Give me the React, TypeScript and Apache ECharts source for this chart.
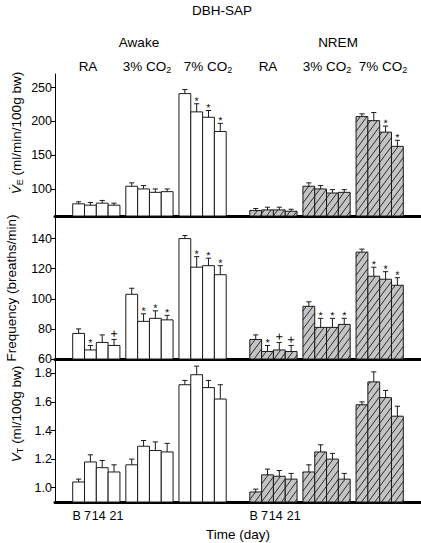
import React, { useEffect, useRef } from "react";
import * as echarts from "echarts";

// ---- data (order: Awake RA, Awake 3% CO2, Awake 7% CO2, NREM RA, NREM 3% CO2, NREM 7% CO2; 4 days each) ----
const stateNames = ["Awake", "NREM"];
const conditionNames = ["RA", "3% CO2", "7% CO2"];
const dayLabels = ["B", "7", "14", "21"];

const veMean = [78, 76, 79, 76, 104, 100, 95, 96, 241, 214, 206, 185, 68, 69, 69, 67, 104, 100, 94, 95, 207, 201, 184, 163];
const veErr = [3, 4, 4, 3, 5, 5, 5, 4, 6, 12, 10, 12, 3, 4, 4, 3, 5, 5, 5, 4, 4, 12, 9, 9];
const veSig = ["", "", "", "", "", "", "", "", "", "*", "*", "*", "", "", "", "", "", "", "", "", "", "", "*", "*"];

const freqMean = [77, 66, 71, 69, 103, 85, 87, 86, 140, 121, 122, 116, 73, 65, 66, 65, 95, 81, 81, 83, 131, 115, 113, 109];
const freqErr = [3, 3, 5, 4, 4, 5, 5, 3, 2, 7, 5, 6, 3, 4, 5, 4, 3, 6, 6, 4, 2, 6, 5, 5];
const freqSig = ["", "*", "", "+", "", "*", "*", "*", "", "*", "*", "*", "", "*", "+", "+", "", "*", "*", "*", "", "*", "*", "*"];

const vtMean = [1.04, 1.18, 1.14, 1.11, 1.16, 1.29, 1.26, 1.25, 1.72, 1.79, 1.70, 1.62, 0.97, 1.09, 1.08, 1.06, 1.11, 1.25, 1.20, 1.06, 1.58, 1.74, 1.63, 1.50];
const vtErr = [0.02, 0.05, 0.05, 0.05, 0.04, 0.04, 0.06, 0.06, 0.03, 0.06, 0.05, 0.10, 0.02, 0.04, 0.04, 0.04, 0.05, 0.05, 0.04, 0.04, 0.02, 0.07, 0.05, 0.07];
const vtSig = ["", "", "", "", "", "", "", "", "", "", "", "", "", "", "", "", "", "", "", "", "", "", "", ""];

const veTicks = [100, 150, 200, 250];
const freqTicks = [60, 80, 100, 120, 140];
const vtTicks = [1.0, 1.2, 1.4, 1.6, 1.8];

// ---- layout ----
const FONT = "'Liberation Sans', Arial, Helvetica, sans-serif";
const LEAD = 1.5;
const GROUP_GAP = 0.5;
const STATE_GAP = 2;
const X_MAX = 31;
const perGroup = dayLabels.length;
const perState = conditionNames.length;
// label nudges (left/right padding) so day labels sit as in the original
const dayPad = [[0, 4, 0, 0], [0, 6, 0, 0], [0, 7, 0, 0], [0, 0, 0, 5]];

function barPos(k: number) {
  const g = Math.floor(k / perGroup);
  const i = k % perGroup;
  const s = Math.floor(g / perState);
  const c = g % perState;
  const stateWidth = perState * perGroup + (perState - 1) * GROUP_GAP + STATE_GAP;
  return LEAD + s * stateWidth + c * (perGroup + GROUP_GAP) + i + 0.5;
}

const dayTickPositions: number[] = [];
stateNames.forEach((_, s) => {
  for (let i = 0; i < perGroup; i++) dayTickPositions.push(barPos(s * perState * perGroup + i));
});

function hatchLines(x0: number, x1: number, y0: number, y1: number) {
  const m = 1.35;
  const sp = 9;
  const out: any[] = [];
  const bMin = y0 + m * x0;
  const bMax = y1 + m * x1;
  for (let k = Math.ceil(bMin / sp); k * sp <= bMax; k++) {
    const b = k * sp;
    const xa = Math.max(x0, (b - y1) / m);
    const xb = Math.min(x1, (b - y0) / m);
    if (xb - xa > 0.3) {
      out.push({
        type: "line",
        shape: { x1: xa, y1: b - m * xa, x2: xb, y2: b - m * xb },
        style: { stroke: "#1a1a1a", lineWidth: 0.9 },
      });
    }
  }
  return out;
}

function makeRender(yMin: number, sig: string[]) {
  return (params: any, api: any) => {
    const idx = params.dataIndex;
    const x = api.value(0);
    const y = api.value(1);
    const e = api.value(2);
    const top = api.coord([x, y]);
    const base = api.coord([x, yMin]);
    const w = api.size([1, 0])[0];
    const left = top[0] - w / 2;
    const h = base[1] - top[1];
    const hatched = Math.floor(idx / (perState * perGroup)) === 1;
    const children: any[] = [];
    children.push({
      type: "rect",
      shape: { x: left, y: top[1], width: w, height: h },
      style: { fill: hatched ? "#c4c4c4" : "#ffffff", stroke: "none" },
    });
    if (hatched) children.push(...hatchLines(left, left + w, top[1], base[1]));
    children.push({
      type: "rect",
      shape: { x: left, y: top[1], width: w, height: h },
      style: { fill: "none", stroke: "#1a1a1a", lineWidth: 1 },
    });
    const cap = api.coord([x, y + e]);
    children.push({
      type: "line",
      shape: { x1: top[0], y1: top[1], x2: top[0], y2: cap[1] },
      style: { stroke: "#1a1a1a", lineWidth: 1 },
    });
    children.push({
      type: "line",
      shape: { x1: top[0] - 2.6, y1: cap[1], x2: top[0] + 2.6, y2: cap[1] },
      style: { stroke: "#1a1a1a", lineWidth: 1 },
    });
    const mk = sig[idx];
    if (mk) {
      const isStar = mk === "*";
      children.push({
        type: "text",
        x: top[0],
        y: cap[1] - (isStar ? 3 : 6),
        rotation: 0.002,
        style: {
          text: mk,
          fill: "#000000",
          stroke: "none",
          lineWidth: 0,
          opacity: 0.99,
          fontSize: isStar ? 11 : 13,
          fontFamily: FONT,
          align: "center",
          verticalAlign: "middle",
        },
      });
    }
    return { type: "group", children };
  };
}

function seriesData(mean: number[], err: number[]) {
  return mean.map((v, k) => [barPos(k), v, err[k]]);
}

export default function App() {
  const ref = useRef<HTMLDivElement>(null);
  useEffect(() => {
    if (!ref.current) return;
    const chart = echarts.init(ref.current, null, { renderer: "svg" });
    const grids = [
      { left: 55, right: 0, top: 74, height: 142 },
      { left: 55, right: 0, top: 216, height: 143 },
      { left: 55, right: 0, top: 359, height: 143 },
    ];
    const ranges = [
      [60, 270],
      [60, 155],
      [0.9, 1.9],
    ];
    const ticks = [veTicks, freqTicks, vtTicks];
    const fmt = [(v: number) => String(v), (v: number) => String(v), (v: number) => v.toFixed(1)];
    const dayRich: any = {};
    dayPad.forEach((p, i) => {
      dayRich["d" + i] = { padding: p, fontSize: 12.5, fontFamily: FONT, color: "#000" };
    });
    const xAxis = grids.map((_, gi) => ({
      gridIndex: gi,
      type: "value",
      min: 0,
      max: X_MAX,
      axisLine: { show: true, onZero: false, lineStyle: { color: "#000", width: 3 } },
      axisTick: { show: false },
      splitLine: { show: false },
      axisLabel:
        gi === 2
          ? {
              show: true,
              customValues: dayTickPositions,
              hideOverlap: false,
              margin: 7,
              color: "#000",
              fontSize: 12.5,
              fontFamily: FONT,
              rich: dayRich,
              formatter: (v: number) => {
                const j = dayTickPositions.findIndex((p) => Math.abs(p - v) < 0.01);
                if (j < 0) return "";
                const d = j % perGroup;
                return `{d${d}|${dayLabels[d]}}`;
              },
            }
          : { show: false },
      name: gi === 2 ? "Time (day)" : "",
      nameLocation: "middle",
      nameGap: 25,
      nameTextStyle: { color: "#000", fontSize: 13.5, fontFamily: FONT },
    }));
    const yAxis = grids.map((_, gi) => ({
      gridIndex: gi,
      type: "value",
      min: ranges[gi][0],
      max: ranges[gi][1],
      axisLine: { show: true, lineStyle: { color: "#000", width: 1 } },
      axisTick: { show: true, length: 4, customValues: ticks[gi], lineStyle: { color: "#000" } },
      axisLabel: {
        customValues: ticks[gi],
        formatter: fmt[gi],
        margin: 3,
        color: "#000",
        fontSize: 12.5,
        fontFamily: FONT,
      },
      splitLine: { show: false },
    }));
    const series = [
      { mean: veMean, err: veErr, sig: veSig },
      { mean: freqMean, err: freqErr, sig: freqSig },
      { mean: vtMean, err: vtErr, sig: vtSig },
    ].map((d, gi) => ({
      type: "custom",
      xAxisIndex: gi,
      yAxisIndex: gi,
      clip: false,
      itemStyle: { color: "#000000" },
      encode: { x: 0, y: 1 },
      data: seriesData(d.mean, d.err),
      renderItem: makeRender(ranges[gi][0], d.sig),
    }));

    const txt = (text: string, x: number, y: number, size = 13.5, extra: any = {}) => ({
      type: "text",
      x,
      y,
      ...extra,
      style: {
        text,
        fill: "#000",
        font: `${size}px ${FONT}`,
        align: "center",
        verticalAlign: "middle",
        rich: {
          sub: { fontSize: 9, fontFamily: FONT, fill: "#000", verticalAlign: "bottom", lineHeight: 12, padding: [6, 0, 0, 0] },
          it: { fontSize: size, fontFamily: FONT, fontStyle: "italic", fill: "#000", lineHeight: 16 },
          n: { fontSize: size, fontFamily: FONT, fill: "#000", lineHeight: 16 },
        },
      },
    });

    const condLabel = (c: string) => c.replace("CO2", "{n|CO}{sub|2}").replace(/^([^{]+)\{/, "{n|$1}{");
    const condX = [88, 147, 208, 268, 327, 383];
    const graphic: any[] = [
      txt("DBH-SAP", 222, 10),
      txt(stateNames[0], 139, 42),
      txt(stateNames[1], 338, 42),
    ];
    conditionNames.forEach((c, ci) => {
      stateNames.forEach((_, si) => {
        const label = c.includes("CO2") ? condLabel(c) : `{n|${c}}`;
        graphic.push(txt(label, condX[si * 3 + ci], 66));
      });
    });
    graphic.push(txt("{it|V\u0307}{sub|E}{n| (ml/min/100g bw)}", 16, 133, 13.5, { rotation: Math.PI / 2 }));
    graphic.push(txt("Frequency (breaths/min)", 11, 288, 13.5, { rotation: Math.PI / 2 }));
    graphic.push(txt("{it|V}{sub|T}{n| (ml/100g bw)}", 16, 414, 13.5, { rotation: Math.PI / 2 }));

    chart.setOption({
      animation: false,
      backgroundColor: "#ffffff",
      grid: grids,
      xAxis,
      yAxis,
      series,
      graphic,
    } as any);
    return () => chart.dispose();
  }, []);
  return <div ref={ref} style={{ position: "fixed", left: 0, top: 0, width: 421, height: 543 }} />;
}
